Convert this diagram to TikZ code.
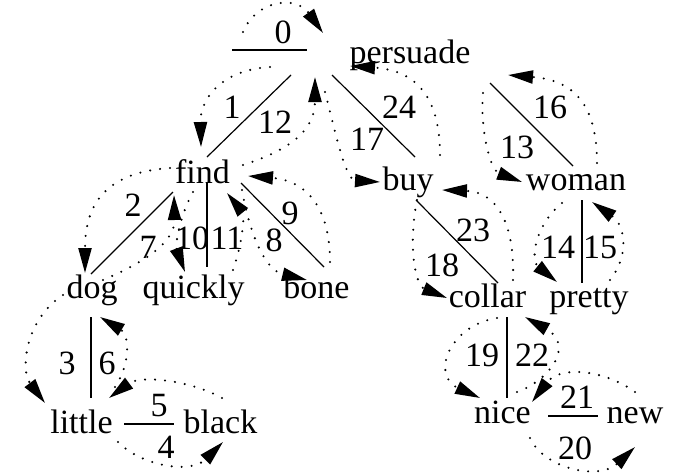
\documentclass[tikz,border=0pt]{standalone}
\usepackage{fontspec}
\setmainfont{Liberation Serif}
\usetikzlibrary{arrows.meta}
\begin{document}
\begin{tikzpicture}[x=1pt,y=-1pt,
  word/.style={inner sep=0pt,anchor=base,font=\fontsize{34}{40}\selectfont},
  num/.style={inner sep=0pt,anchor=center,font=\fontsize{34}{40}\selectfont},
  edge/.style={line width=1.2pt},
  trav/.style={line width=2.3pt,line cap=round,dash pattern=on 0pt off 10pt,
    -{Triangle[length=25pt,width=13pt]}}]
\useasboundingbox (0,0) rectangle (684,472);
% words
\node[word] (persuade) at (410,63) {persuade};
\node[word] (find) at (202.5,183) {find};
\node[word] (buy) at (408,190) {buy};
\node[word] (woman) at (576,190) {woman};
\node[word] (dog) at (92,298) {dog};
\node[word] (quickly) at (193.5,298) {quickly};
\node[word] (bone) at (316.5,298) {bone};
\node[word] (collar) at (487.5,307) {collar};
\node[word] (pretty) at (589,307) {pretty};
\node[word] (little) at (81.5,433) {little};
\node[word] (black) at (220.5,433) {black};
\node[word] (nice) at (502.5,423) {nice};
\node[word] (new) at (635,423) {new};
% numbers
\node[num] (n0) at (283,32) {0};
\node[num] (n1) at (232,107) {1};
\node[num] (n12) at (275,122) {12};
\node[num] (n17) at (367,139) {17};
\node[num] (n24) at (399,107) {24};
\node[num] (n2) at (133,205) {2};
\node[num] (n7) at (148,247) {7};
\node[num] (n10) at (192,238) {10};
\node[num] (n11) at (227,238) {11};
\node[num] (n8) at (274,240) {8};
\node[num] (n9) at (290,213) {9};
\node[num] (n3) at (67,363) {3};
\node[num] (n6) at (107,363) {6};
\node[num] (n5) at (159,406) {5};
\node[num] (n4) at (166,447) {4};
\node[num] (n16) at (550,107) {16};
\node[num] (n13) at (517,147) {13};
\node[num] (n23) at (473,230) {23};
\node[num] (n18) at (442,265) {18};
\node[num] (n14) at (558,247) {14};
\node[num] (n15) at (600,247) {15};
\node[num] (n19) at (482,355) {19};
\node[num] (n22) at (532,355) {22};
\node[num] (n21) at (577,397) {21};
\node[num] (n20) at (575,448) {20};
% line end points
\coordinate (rootL) at (232,50);
\coordinate (rootR) at (307,50);
\coordinate (pL) at (291,75);
\coordinate (pR) at (332,75);
\coordinate (fT) at (207,157);
\coordinate (bT) at (415,157);
\coordinate (fDL) at (173,192);
\coordinate (dT) at (91,274);
\coordinate (fQ) at (207,182);
\coordinate (qT) at (207,267);
\coordinate (fB) at (241,183);
\coordinate (boT) at (324,267);
\coordinate (dB) at (91,317);
\coordinate (lT) at (91,398);
\coordinate (lbL) at (124,424);
\coordinate (lbR) at (174,424);
\coordinate (buB) at (416,200);
\coordinate (cT) at (498,283);
\coordinate (wTop) at (490,83);
\coordinate (wT) at (573,166);
\coordinate (wB) at (582,200);
\coordinate (prT) at (582,283);
\coordinate (cB) at (507,317);
\coordinate (niT) at (507,398);
\coordinate (nnL) at (548,416);
\coordinate (nnR) at (598,416);
% solid lines
\draw[edge] (rootL) -- (rootR);
\draw[edge] (pL) -- (fT);
\draw[edge] (pR) -- (bT);
\draw[edge] (fDL) -- (dT);
\draw[edge] (fQ) -- (qT);
\draw[edge] (fB) -- (boT);
\draw[edge] (dB) -- (lT);
\draw[edge] (lbL) -- (lbR);
\draw[edge] (buB) -- (cT);
\draw[edge] (wTop) -- (wT);
\draw[edge] (wB) -- (prT);
\draw[edge] (cB) -- (niT);
\draw[edge] (nnL) -- (nnR);
% traversal arrows
\coordinate (a0s) at (243,32); \coordinate (a0e) at (323,33);
\draw[trav] (a0s) .. controls (256,0) and (296,-5) .. (a0e);
\coordinate (a1s) at (270,67); \coordinate (a1e) at (201,147);
\draw[trav] (a1s) .. controls (220,70) and (200,100) .. (a1e);
\coordinate (a12s) at (243,165); \coordinate (a12e) at (315,77);
\draw[trav] (a12s) .. controls (290,150) and (315,130) .. (a12e);
\coordinate (a17s) at (325,92); \coordinate (a17e) at (380,182);
\draw[trav] (a17s) .. controls (335,130) and (345,180) .. (a17e);
\coordinate (a24s) at (440,155); \coordinate (a24e) at (350,66);
\draw[trav] (a24s) .. controls (440,90) and (410,70) .. (a24e);
\coordinate (a2s) at (170,168); \coordinate (a2e) at (85,273);
\draw[trav] (a2s) .. controls (110,172) and (85,200) .. (a2e);
\coordinate (a7s) at (103,280); \coordinate (a7e) at (174,195);
\draw[trav] (a7s) .. controls (150,260) and (175,240) .. (a7e);
\coordinate (a10s) at (193,192); \coordinate (a10e) at (185,272);
\draw[trav] (a10s) .. controls (180,215) and (175,245) .. (a10e);
\coordinate (a11s) at (233,270); \coordinate (a11e) at (227,193);
\draw[trav] (a11s) .. controls (242,245) and (245,215) .. (a11e);
\coordinate (a8s) at (242,190); \coordinate (a8e) at (307,280);
\draw[trav] (a8s) .. controls (250,235) and (265,270) .. (a8e);
\coordinate (a9s) at (330,262); \coordinate (a9e) at (248,176);
\draw[trav] (a9s) .. controls (330,200) and (300,180) .. (a9e);
\coordinate (a3s) at (63,295); \coordinate (a3e) at (45,403);
\draw[trav] (a3s) .. controls (25,320) and (20,370) .. (a3e);
\coordinate (a6s) at (115,387); \coordinate (a6e) at (100,317);
\draw[trav] (a6s) .. controls (130,365) and (130,335) .. (a6e);
\coordinate (a5s) at (222,398); \coordinate (a5e) at (109,398);
\draw[trav] (a5s) .. controls (190,380) and (140,375) .. (a5e);
\coordinate (a4s) at (118,442); \coordinate (a4e) at (223,442);
\draw[trav] (a4s) .. controls (140,465) and (190,475) .. (a4e);
\coordinate (a16s) at (597,163); \coordinate (a16e) at (508,75);
\draw[trav] (a16s) .. controls (597,100) and (570,80) .. (a16e);
\coordinate (a13s) at (483,93); \coordinate (a13e) at (522,182);
\draw[trav] (a13s) .. controls (480,130) and (490,170) .. (a13e);
\coordinate (a23s) at (513,280); \coordinate (a23e) at (442,190);
\draw[trav] (a23s) .. controls (515,220) and (495,192) .. (a23e);
\coordinate (a18s) at (417,200); \coordinate (a18e) at (447,298);
\draw[trav] (a18s) .. controls (408,245) and (415,285) .. (a18e);
\coordinate (a14s) at (562,203); \coordinate (a14e) at (557,282);
\draw[trav] (a14s) .. controls (535,225) and (530,260) .. (a14e);
\coordinate (a15s) at (610,280); \coordinate (a15e) at (592,202);
\draw[trav] (a15s) .. controls (630,255) and (625,225) .. (a15e);
\coordinate (a19s) at (497,318); \coordinate (a19e) at (480,398);
\draw[trav] (a19s) .. controls (450,325) and (430,375) .. (a19e);
\coordinate (a22s) at (517,392); \coordinate (a22e) at (525,317);
\draw[trav] (a22s) .. controls (550,380) and (575,345) .. (a22e);
\coordinate (a21s) at (635,392); \coordinate (a21e) at (532,402);
\draw[trav] (a21s) .. controls (605,370) and (560,365) .. (a21e);
\coordinate (a20s) at (530,438); \coordinate (a20e) at (635,447);
\draw[trav] (a20s) .. controls (545,470) and (600,480) .. (a20e);
\end{tikzpicture}
\end{document}
